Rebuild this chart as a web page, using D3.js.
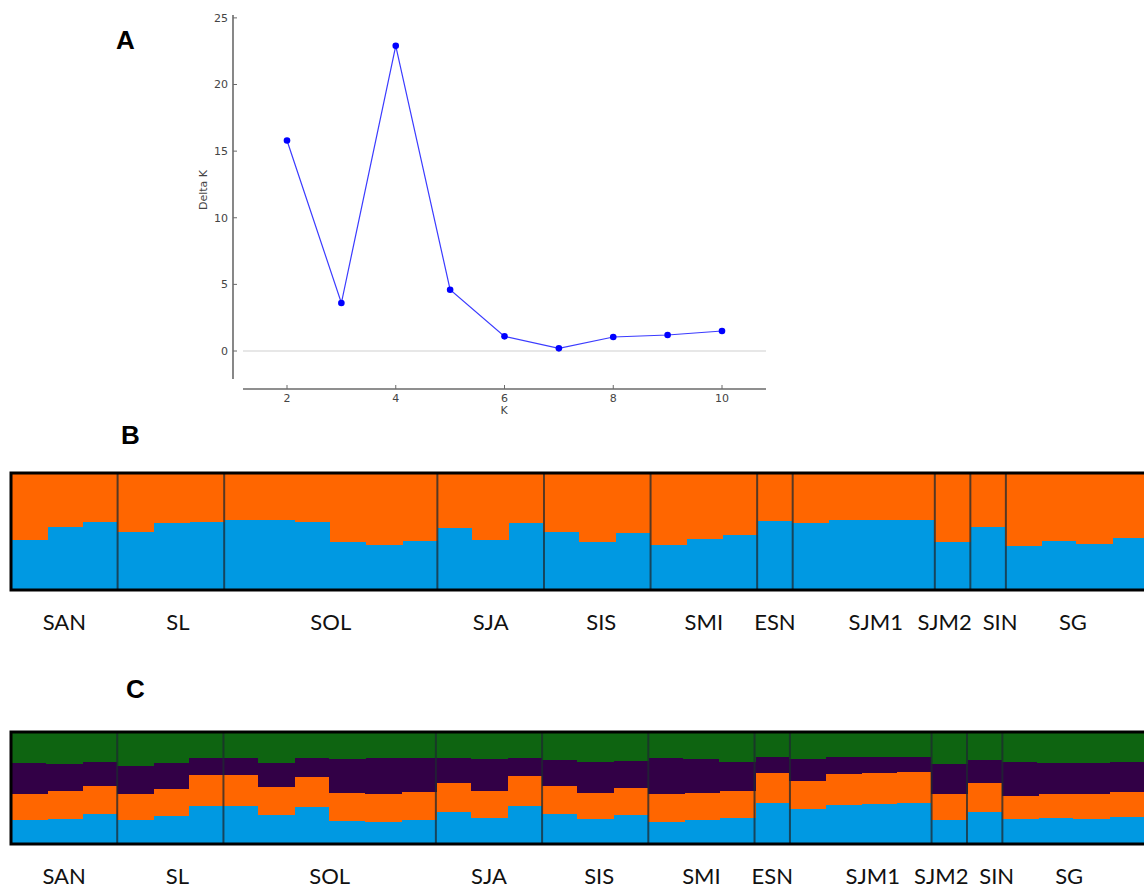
<!DOCTYPE html>
<html>
<head>
<meta charset="utf-8">
<script src="https://cdn.jsdelivr.net/npm/d3@7"></script>
<style>
  body { margin: 0; background: #fff; }
  svg { display: block; }
  .panel-letter { font-family: "Liberation Sans", Arial, sans-serif; font-weight: bold; font-size: 26px; }
  .pop-label { font-family: Lato, "Open Sans", sans-serif; font-size: 22px; fill: #111; }
  .tick-label { font-family: "DejaVu Sans", sans-serif; font-size: 11px; fill: #444; }
</style>
</head>
<body>
<svg id="chart" width="1144" height="888"></svg>
<script>
// ---- panel A: Evanno delta K ----
var kValues = [2, 3, 4, 5, 6, 7, 8, 9, 10];
var deltaK = [15.8, 3.6, 22.9, 4.6, 1.1, 0.2, 1.05, 1.2, 1.5];
var yTicksA = [0, 5, 10, 15, 20, 25];
var xTicksA = [2, 4, 6, 8, 10];

// ---- populations (individuals / columns per pop) ----
var pops = ["SAN", "SL", "SOL", "SJA", "SIS", "SMI", "ESN", "SJM1", "SJM2", "SIN", "SG"];
var popSizes = [3, 3, 6, 3, 3, 3, 1, 4, 1, 1, 4];

// ---- panel B: K=2, share of the blue cluster ----
var k2Blue = [0.426, 0.542, 0.58,
              0.498, 0.571, 0.58,
              0.60, 0.596, 0.585, 0.411, 0.383, 0.417,
              0.533, 0.426, 0.577,
              0.493, 0.411, 0.49,
              0.383, 0.432, 0.472,
              0.594,
              0.577, 0.597, 0.603, 0.60,
              0.411,
              0.542,
              0.374, 0.417, 0.389, 0.443];

// ---- panel C: K=4, cluster shares (bottom to top) ----
var k4Blue = [0.209, 0.221, 0.264,
              0.209, 0.245, 0.339,
              0.339, 0.255, 0.324, 0.203, 0.194, 0.209,
              0.279, 0.225, 0.336,
              0.264, 0.221, 0.255,
              0.194, 0.209, 0.225,
              0.361,
              0.306, 0.345, 0.355, 0.361,
              0.209,
              0.285,
              0.215, 0.225, 0.215, 0.234];
var k4Orange = [0.236, 0.255, 0.255,
                0.236, 0.245, 0.279,
                0.279, 0.257, 0.273, 0.255, 0.252, 0.257,
                0.269, 0.248, 0.273,
                0.255, 0.231, 0.243,
                0.249, 0.248, 0.248,
                0.278,
                0.26, 0.282, 0.285, 0.282,
                0.236,
                0.258,
                0.215, 0.221, 0.23, 0.233];
var k4Purple = [0.279, 0.243, 0.215,
                0.257, 0.234, 0.157,
                0.157, 0.213, 0.173, 0.306, 0.325, 0.304,
                0.222, 0.288, 0.166,
                0.236, 0.282, 0.248,
                0.327, 0.304, 0.261,
                0.145,
                0.195, 0.152, 0.145, 0.142,
                0.273,
                0.212,
                0.304, 0.285, 0.285, 0.267];
var k4Green = [0.275, 0.282, 0.266,
               0.297, 0.275, 0.224,
               0.224, 0.275, 0.23, 0.236, 0.23, 0.23,
               0.23, 0.239, 0.224,
               0.245, 0.266, 0.255,
               0.23, 0.239, 0.266,
               0.215,
               0.239, 0.221, 0.215, 0.215,
               0.282,
               0.245,
               0.266, 0.27, 0.27, 0.266];

var colors = {blue: "#0099e2", orange: "#ff6600", purple: "#320046", green: "#0e6411"};

var svg = d3.select("#chart");

// which population each column belongs to
var colPop = [];
popSizes.forEach(function(n, p){
  for (var i = 0; i < n; i++) colPop.push(p);
});
var nCols = colPop.length;

////////////////////////////////////////////////////////////////////////////////
//  A
////////////////////////////////////////////////////////////////////////////////
function drawDeltaK() {
  var x = d3.scaleLinear().domain([2, 10]).range([287, 722]);
  var y = d3.scaleLinear().domain([0, 20]).range([351, 84.5]);
  var g = svg.append("g");

  // zero line
  g.append("line")
   .attr("x1", 243).attr("x2", 766)
   .attr("y1", y(0)).attr("y2", y(0))
   .attr("stroke", "#cfcfcf").attr("stroke-width", 1);

  // y spine
  g.append("line")
   .attr("x1", 233).attr("x2", 233)
   .attr("y1", 15).attr("y2", 379)
   .attr("stroke", "#6a6a6a").attr("stroke-width", 1.6);
  g.selectAll(".yt").data(yTicksA).enter().append("line")
   .attr("x1", 233).attr("x2", 237)
   .attr("y1", function(d){ return y(d); })
   .attr("y2", function(d){ return y(d); })
   .attr("stroke", "#6a6a6a");
  g.selectAll(".yl").data(yTicksA).enter().append("text")
   .attr("class", "tick-label")
   .attr("x", 228)
   .attr("y", function(d){ return y(d); })
   .attr("dy", ".35em")
   .style("text-anchor", "end")
   .text(function(d){ return d; });

  // x spine
  g.append("line")
   .attr("x1", 243).attr("x2", 766)
   .attr("y1", 389).attr("y2", 389)
   .attr("stroke", "#6a6a6a").attr("stroke-width", 1.6);
  g.selectAll(".xt").data(xTicksA).enter().append("line")
   .attr("x1", function(d){ return x(d); })
   .attr("x2", function(d){ return x(d); })
   .attr("y1", 385).attr("y2", 389)
   .attr("stroke", "#6a6a6a");
  g.selectAll(".xl").data(xTicksA).enter().append("text")
   .attr("class", "tick-label")
   .attr("x", function(d){ return x(d); })
   .attr("y", 398)
   .attr("dy", ".35em")
   .style("text-anchor", "middle")
   .text(function(d){ return d; });

  g.append("text").attr("class", "tick-label")
   .attr("x", 504).attr("y", 410).attr("dy", ".35em")
   .style("text-anchor", "middle").text("K");
  g.append("text").attr("class", "tick-label")
   .attr("transform", "translate(203,190) rotate(-90)")
   .attr("dy", ".35em")
   .style("text-anchor", "middle").text("Delta K");

  var pts = kValues.map(function(k, i){ return [k, deltaK[i]]; });
  g.append("path")
   .datum(pts)
   .attr("fill", "none")
   .attr("stroke", "#3b3bff")
   .attr("stroke-width", 1.2)
   .attr("d", d3.line().x(function(d){ return x(d[0]); }).y(function(d){ return y(d[1]); }));
  g.selectAll("circle").data(pts).enter().append("circle")
   .attr("cx", function(d){ return x(d[0]); })
   .attr("cy", function(d){ return y(d[1]); })
   .attr("r", 3.3)
   .attr("fill", "#0000ff");
}

////////////////////////////////////////////////////////////////////////////////
//  B and C  (structure bar plots)
////////////////////////////////////////////////////////////////////////////////
var labelShift = {SL: 7, SIS: 4, SJM1: 12, SJM2: -8, SIN: 12, SG: -4};

function drawStructure(rows, keys, box, labelY) {
  var x = d3.scaleBand().domain(d3.range(nCols)).range([box.left, box.right]).paddingInner(0);
  var y = d3.scaleLinear().domain([0, 1]).range([box.bottom, box.top]);
  var g = svg.append("g");

  var series = d3.stack().keys(keys)(rows);
  g.selectAll("g.layer").data(series).enter().append("g")
   .attr("fill", function(d){ return colors[d.key]; })
   .attr("shape-rendering", "crispEdges")
   .selectAll("rect").data(function(d){ return d; }).enter().append("rect")
   .attr("x", function(d, i){ return Math.floor(x(i)); })
   .attr("width", Math.ceil(x.bandwidth()) + 1)
   .attr("y", function(d){ return Math.round(y(Math.min(d[1], 1))); })
   .attr("height", function(d){ return Math.round(y(d[0])) - Math.round(y(Math.min(d[1], 1))); });

  // population separators
  var starts = [];
  var acc = 0;
  popSizes.forEach(function(n){ starts.push(acc); acc += n; });
  g.selectAll(".sep").data(starts.slice(1)).enter().append("line")
   .attr("x1", function(d){ return x(d); })
   .attr("x2", function(d){ return x(d); })
   .attr("y1", box.top).attr("y2", box.bottom)
   .attr("stroke", "#1e2a30").attr("stroke-opacity", 0.75).attr("stroke-width", 2);

  // frame
  g.append("rect")
   .attr("x", box.left).attr("y", box.top - 1)
   .attr("width", box.right - box.left + 6).attr("height", box.bottom - box.top + 2)
   .attr("fill", "none").attr("stroke", "#000").attr("stroke-width", 3);

  g.selectAll(".pop-label").data(pops).enter().append("text")
   .attr("class", "pop-label")
   .attr("x", function(d, i){
     var c = x(starts[i]) + x.bandwidth() * popSizes[i] / 2;
     return c + (labelShift[d] || 0);
   })
   .attr("y", labelY)
   .style("text-anchor", "middle")
   .text(function(d){ return d; });
}

function letter(t, px, py) {
  svg.append("text").attr("class", "panel-letter").attr("x", px).attr("y", py).text(t);
}

drawDeltaK();

var rowsB = k2Blue.map(function(b){ return {blue: b, orange: 1 - b}; });
drawStructure(rowsB, ["blue", "orange"], {left: 11, right: 1148, top: 474, bottom: 589}, 630);

var rowsC = k4Blue.map(function(b, i){
  return {blue: b, orange: k4Orange[i], purple: k4Purple[i], green: k4Green[i]};
});
drawStructure(rowsC, ["blue", "orange", "purple", "green"], {left: 11, right: 1144, top: 733, bottom: 843}, 884);

letter("A", 116, 49);
letter("B", 121, 444);
letter("C", 126, 698);
</script>
</body>
</html>
